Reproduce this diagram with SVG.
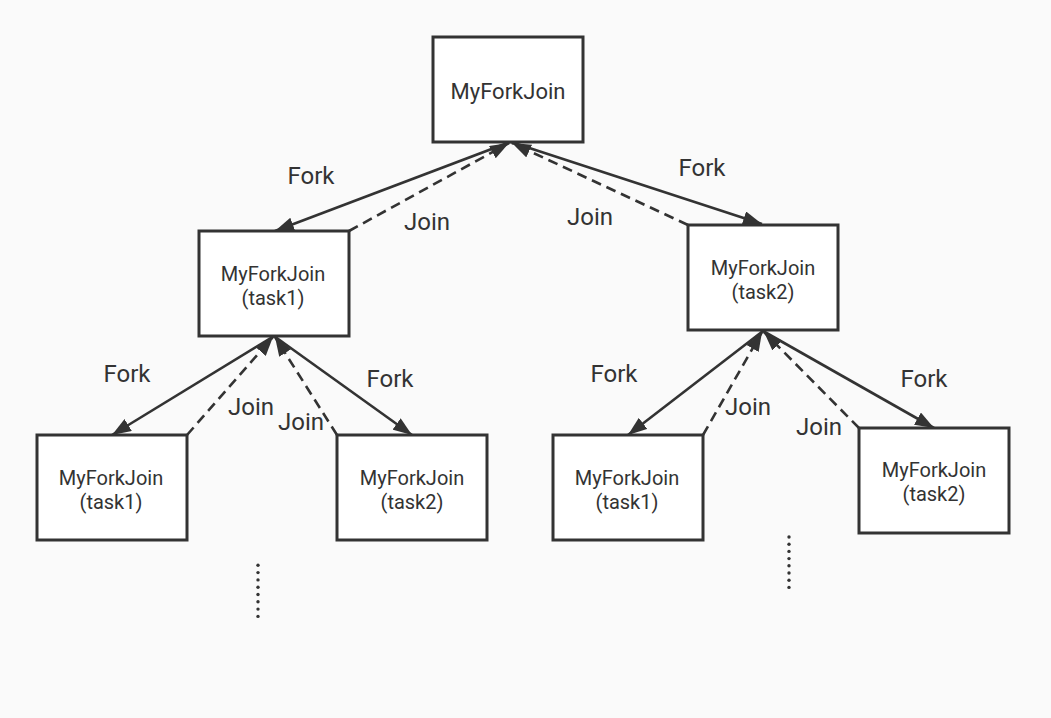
<svg xmlns="http://www.w3.org/2000/svg" width="1051" height="718" viewBox="0 0 1051 718">
<defs>
<style>
.box{fill:#ffffff;stroke:#333333;stroke-width:3}
.t{font-family:Roboto,"Liberation Sans",sans-serif;fill:#333333;text-anchor:middle}
.tb{font-size:20px}
.tt{font-size:22px}
.lbl{font-family:Roboto,"Liberation Sans",sans-serif;fill:#333333;text-anchor:middle;font-size:24px}
.fork{stroke:#333333;stroke-width:2.6;fill:none;marker-end:url(#ah)}
.join{stroke:#333333;stroke-width:2.6;fill:none;stroke-dasharray:10 6;marker-end:url(#ah)}
.dot{fill:#333333}
</style>
<marker id="ah" markerUnits="userSpaceOnUse" markerWidth="20" markerHeight="14" refX="19" refY="7" orient="auto">
<path d="M0,0 L19,7 L0,14 z" fill="#333333"/>
</marker>
</defs>
<rect width="1051" height="718" fill="#fafafa"/>

<g id="connectors">
<path class="fork" d="M510,142 L275,231"/>
<path class="join" d="M349,231 L509,143"/>
<path class="join" d="M688,225 L512,143"/>
<path class="fork" d="M511,142 L762,224"/>

<path class="fork" d="M274,336 L112,435"/>
<path class="join" d="M187,435 L273,337"/>
<path class="join" d="M337,435 L275,337"/>
<path class="fork" d="M274,336 L412,435"/>

<path class="fork" d="M763,331 L628,435"/>
<path class="join" d="M703,435 L762,332"/>
<path class="join" d="M859,428 L764,332"/>
<path class="fork" d="M763,331 L934,428"/>
</g>

<g id="labels">
<text class="lbl" x="311" y="184">Fork</text>
<text class="lbl" x="427" y="230">Join</text>
<text class="lbl" x="590" y="225">Join</text>
<text class="lbl" x="702" y="176">Fork</text>
<text class="lbl" x="127" y="382">Fork</text>
<text class="lbl" x="251" y="415">Join</text>
<text class="lbl" x="301" y="430">Join</text>
<text class="lbl" x="390" y="387">Fork</text>
<text class="lbl" x="614" y="382">Fork</text>
<text class="lbl" x="748" y="415">Join</text>
<text class="lbl" x="819" y="435">Join</text>
<text class="lbl" x="924" y="387">Fork</text>
</g>

<g id="root">
<rect class="box" x="433" y="37" width="150" height="105"/>
<text class="t tt" x="508" y="99">MyForkJoin</text>
</g>

<g id="task1">
<rect class="box" x="199" y="231" width="150" height="105"/>
<text class="t tb" x="273" y="281">MyForkJoin</text>
<text class="t tb" x="273" y="305">(task1)</text>
</g>

<g id="task2">
<rect class="box" x="688" y="225" width="150" height="105"/>
<text class="t tb" x="763" y="275">MyForkJoin</text>
<text class="t tb" x="763" y="299">(task2)</text>
</g>

<g id="task1-task1">
<rect class="box" x="37" y="435" width="150" height="105"/>
<text class="t tb" x="111" y="485">MyForkJoin</text>
<text class="t tb" x="111" y="509">(task1)</text>
</g>

<g id="task1-task2">
<rect class="box" x="337" y="435" width="150" height="105"/>
<text class="t tb" x="412" y="485">MyForkJoin</text>
<text class="t tb" x="412" y="509">(task2)</text>
</g>

<g id="task2-task1">
<rect class="box" x="553" y="435" width="150" height="105"/>
<text class="t tb" x="627" y="485">MyForkJoin</text>
<text class="t tb" x="627" y="509">(task1)</text>
</g>

<g id="task2-task2">
<rect class="box" x="859" y="428" width="150" height="105"/>
<text class="t tb" x="934" y="477">MyForkJoin</text>
<text class="t tb" x="934" y="501">(task2)</text>
</g>

<g id="ellipsis-left">
<circle class="dot" cx="258" cy="565.3" r="1.7"/>
<circle class="dot" cx="258" cy="572.6" r="1.7"/>
<circle class="dot" cx="258" cy="579.9" r="1.7"/>
<circle class="dot" cx="258" cy="587.2" r="1.7"/>
<circle class="dot" cx="258" cy="594.5" r="1.7"/>
<circle class="dot" cx="258" cy="601.8" r="1.7"/>
<circle class="dot" cx="258" cy="609.1" r="1.7"/>
<circle class="dot" cx="258" cy="616.4" r="1.7"/>
</g>

<g id="ellipsis-right">
<circle class="dot" cx="789" cy="537" r="1.7"/>
<circle class="dot" cx="789" cy="544.2" r="1.7"/>
<circle class="dot" cx="789" cy="551.4" r="1.7"/>
<circle class="dot" cx="789" cy="558.6" r="1.7"/>
<circle class="dot" cx="789" cy="565.8" r="1.7"/>
<circle class="dot" cx="789" cy="573" r="1.7"/>
<circle class="dot" cx="789" cy="580.2" r="1.7"/>
<circle class="dot" cx="789" cy="587.4" r="1.7"/>
</g>
</svg>
